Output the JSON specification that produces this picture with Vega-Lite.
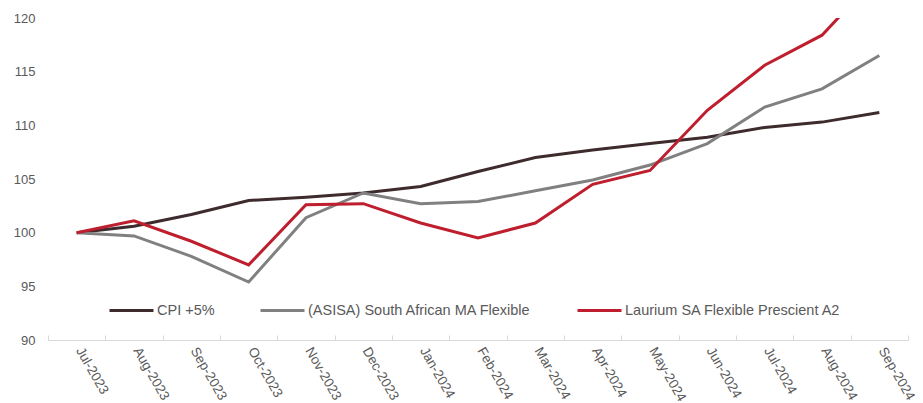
{
  "$schema": "https://vega.github.io/schema/vega-lite/v6.json",
  "autosize": {"type": "none"},
  "padding": {"left": 48, "top": 18, "right": 15, "bottom": 63},
  "width": 860,
  "height": 322,
  "background": "white",
  "config": {
    "view": {"stroke": null},
    "font": "Liberation Sans"
  },
  "data": {
    "values": [
      {"month": "Jul-2023", "series": "CPI +5%", "value": 100.0},
      {"month": "Aug-2023", "series": "CPI +5%", "value": 100.6},
      {"month": "Sep-2023", "series": "CPI +5%", "value": 101.7},
      {"month": "Oct-2023", "series": "CPI +5%", "value": 103.0},
      {"month": "Nov-2023", "series": "CPI +5%", "value": 103.3},
      {"month": "Dec-2023", "series": "CPI +5%", "value": 103.7},
      {"month": "Jan-2024", "series": "CPI +5%", "value": 104.3},
      {"month": "Feb-2024", "series": "CPI +5%", "value": 105.7},
      {"month": "Mar-2024", "series": "CPI +5%", "value": 107.0},
      {"month": "Apr-2024", "series": "CPI +5%", "value": 107.7},
      {"month": "May-2024", "series": "CPI +5%", "value": 108.3},
      {"month": "Jun-2024", "series": "CPI +5%", "value": 108.9},
      {"month": "Jul-2024", "series": "CPI +5%", "value": 109.8},
      {"month": "Aug-2024", "series": "CPI +5%", "value": 110.3},
      {"month": "Sep-2024", "series": "CPI +5%", "value": 111.2},
      {"month": "Jul-2023", "series": "(ASISA) South African MA Flexible", "value": 100.0},
      {"month": "Aug-2023", "series": "(ASISA) South African MA Flexible", "value": 99.7},
      {"month": "Sep-2023", "series": "(ASISA) South African MA Flexible", "value": 97.8},
      {"month": "Oct-2023", "series": "(ASISA) South African MA Flexible", "value": 95.4},
      {"month": "Nov-2023", "series": "(ASISA) South African MA Flexible", "value": 101.4},
      {"month": "Dec-2023", "series": "(ASISA) South African MA Flexible", "value": 103.7},
      {"month": "Jan-2024", "series": "(ASISA) South African MA Flexible", "value": 102.7},
      {"month": "Feb-2024", "series": "(ASISA) South African MA Flexible", "value": 102.9},
      {"month": "Mar-2024", "series": "(ASISA) South African MA Flexible", "value": 103.9},
      {"month": "Apr-2024", "series": "(ASISA) South African MA Flexible", "value": 104.9},
      {"month": "May-2024", "series": "(ASISA) South African MA Flexible", "value": 106.3},
      {"month": "Jun-2024", "series": "(ASISA) South African MA Flexible", "value": 108.3},
      {"month": "Jul-2024", "series": "(ASISA) South African MA Flexible", "value": 111.7},
      {"month": "Aug-2024", "series": "(ASISA) South African MA Flexible", "value": 113.4},
      {"month": "Sep-2024", "series": "(ASISA) South African MA Flexible", "value": 116.5},
      {"month": "Jul-2023", "series": "Laurium SA Flexible Prescient A2", "value": 100.0},
      {"month": "Aug-2023", "series": "Laurium SA Flexible Prescient A2", "value": 101.1},
      {"month": "Sep-2023", "series": "Laurium SA Flexible Prescient A2", "value": 99.2},
      {"month": "Oct-2023", "series": "Laurium SA Flexible Prescient A2", "value": 97.0},
      {"month": "Nov-2023", "series": "Laurium SA Flexible Prescient A2", "value": 102.6},
      {"month": "Dec-2023", "series": "Laurium SA Flexible Prescient A2", "value": 102.7},
      {"month": "Jan-2024", "series": "Laurium SA Flexible Prescient A2", "value": 100.9},
      {"month": "Feb-2024", "series": "Laurium SA Flexible Prescient A2", "value": 99.5},
      {"month": "Mar-2024", "series": "Laurium SA Flexible Prescient A2", "value": 100.9},
      {"month": "Apr-2024", "series": "Laurium SA Flexible Prescient A2", "value": 104.5},
      {"month": "May-2024", "series": "Laurium SA Flexible Prescient A2", "value": 105.8},
      {"month": "Jun-2024", "series": "Laurium SA Flexible Prescient A2", "value": 111.4},
      {"month": "Jul-2024", "series": "Laurium SA Flexible Prescient A2", "value": 115.6},
      {"month": "Aug-2024", "series": "Laurium SA Flexible Prescient A2", "value": 118.4},
      {"month": "Sep-2024", "series": "Laurium SA Flexible Prescient A2", "value": 124.1}
    ]
  },
  "mark": {"type": "line", "clip": true, "strokeJoin": "miter"},
  "encoding": {
    "x": {
      "field": "month",
      "type": "ordinal",
      "sort": null,
      "scale": {"type": "band", "paddingInner": 0, "paddingOuter": 0},
      "axis": {
        "title": null,
        "labelAngle": 60,
        "labelAlign": "left",
        "labelBaseline": "middle",
        "labelFontSize": 13.5,
        "labelColor": "#595959",
        "labelPadding": 13,
        "labelOffset": 2,
        "domainColor": "#d9d9d9",
        "tickColor": "#d9d9d9",
        "tickSize": -5,
        "tickBand": "extent",
        "grid": false
      }
    },
    "y": {
      "field": "value",
      "type": "quantitative",
      "scale": {"domain": [90, 120], "nice": false, "zero": false},
      "axis": {
        "title": null,
        "values": [90, 95, 100, 105, 110, 115, 120],
        "grid": false,
        "domain": false,
        "ticks": false,
        "labelPadding": 13,
        "labelFontSize": 13,
        "labelColor": "#595959"
      }
    },
    "color": {
      "field": "series",
      "type": "nominal",
      "sort": null,
      "scale": {
        "domain": ["CPI +5%", "(ASISA) South African MA Flexible", "Laurium SA Flexible Prescient A2"],
        "range": ["#3e2b2e", "#808080", "#be1e2d"]
      },
      "legend": {
        "title": null,
        "orient": "none",
        "direction": "horizontal",
        "legendX": 60,
        "legendY": 269,
        "symbolType": "stroke",
        "symbolSize": 1936,
        "symbolStrokeWidth": 3.5,
        "labelFontSize": 14.5,
        "labelLimit": 0,
        "labelColor": "#595959",
        "labelOffset": 2,
        "columnPadding": 39
      }
    },
    "strokeWidth": {
      "field": "series",
      "type": "nominal",
      "sort": null,
      "scale": {
        "domain": ["CPI +5%", "(ASISA) South African MA Flexible", "Laurium SA Flexible Prescient A2"],
        "range": [3, 3, 4.5]
      },
      "legend": null
    }
  }
}
